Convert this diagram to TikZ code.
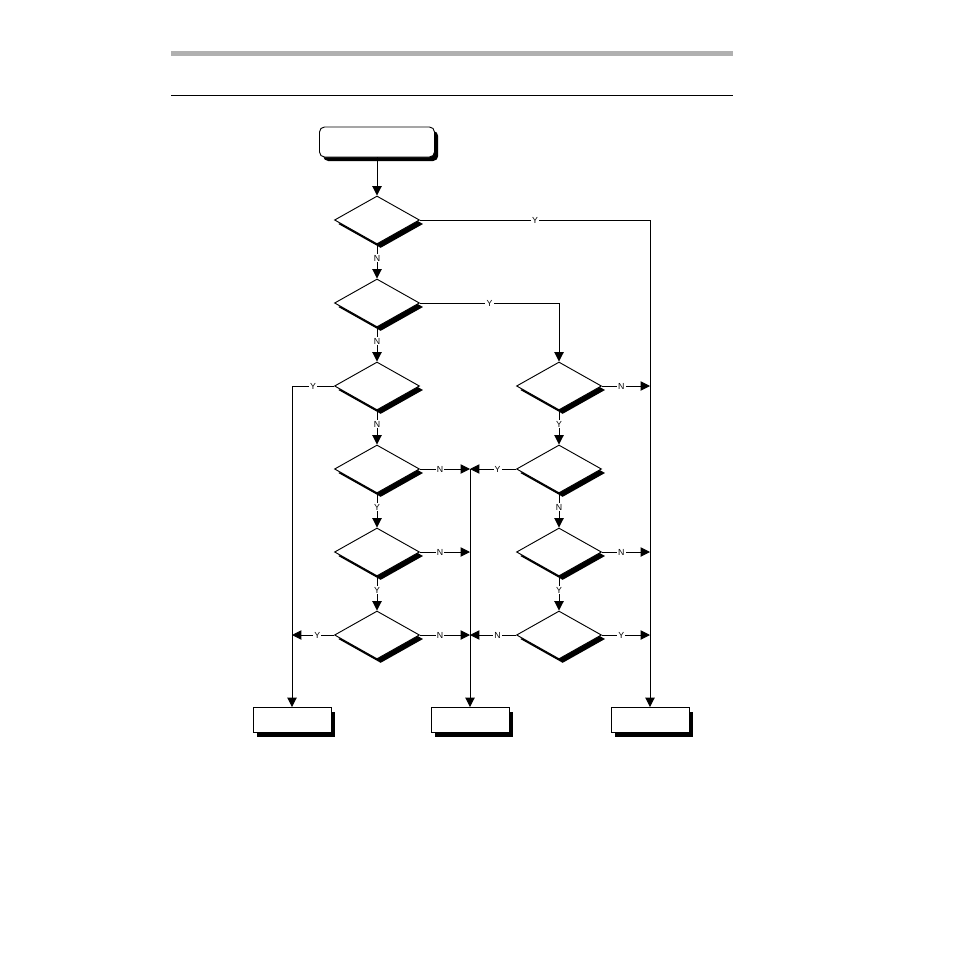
\documentclass[tikz,border=0pt]{standalone}
\usepackage{fontspec}
\setsansfont{Liberation Sans}
\usetikzlibrary{arrows.meta,shapes.geometric,shadows}

\begin{document}
\begin{tikzpicture}[x=0.03cm,y=-0.03cm,line width=0.8pt,
		sh/.style={drop shadow={shadow xshift=0.11cm,shadow yshift=-0.12cm,opacity=1,fill=black}},
		dec/.style={diamond,draw,fill=white,minimum width=2.55cm,minimum height=1.44cm,inner sep=0pt,sh},
		endbox/.style={rectangle,draw,fill=white,minimum width=2.34cm,minimum height=0.75cm,sh},
		arr/.style={-{Triangle[length=0.28cm,width=0.28cm]}},
		lbl/.style={fill=white,inner sep=1pt,font=\sffamily\fontsize{7.5}{8}\selectfont}]
				\useasboundingbox (0,0) rectangle (954,954);
				% header rules
				\fill[black!31] (171,51) rectangle (733,56);
				\draw (171,95) -- (733,95);
				% start
				\node[draw,fill=white,rounded corners=0.15cm,minimum width=3.45cm,minimum height=0.9cm,sh] (start) at (377,142) {};
				% left column
				\node[dec] (d1) at (377,220) {};
				\node[dec] (d2) at (377,303) {};
				\node[dec] (d3) at (377,386) {};
				\node[dec] (d4) at (377,469) {};
				\node[dec] (d5) at (377,552) {};
				\node[dec] (d6) at (377,635) {};
				% right column
				\node[dec] (r1) at (559,386) {};
				\node[dec] (r2) at (559,469) {};
				\node[dec] (r3) at (559,552) {};
				\node[dec] (r4) at (559,635) {};
				% end boxes
				\node[endbox] (boxA) at (292,720) {};
				\node[endbox] (boxB) at (470,720) {};
				\node[endbox] (boxC) at (650,720) {};
				% connectors
				\draw[arr] (start) -- (d1);
				\draw[arr] (d1.east) -| node[lbl,pos=0.25]{Y} (boxC.north);
				\draw[arr] (d1) -- node[lbl,pos=0.4]{N} (d2);
				\draw[arr] (d2.east) -| node[lbl,pos=0.25]{Y} (r1.north);
				\draw[arr] (d2) -- node[lbl,pos=0.4]{N} (d3);
				\draw[arr] (d3.west) -| node[lbl,pos=0.25]{Y} (boxA.north);
				\draw[arr] (d3) -- node[lbl,pos=0.4]{N} (d4);
				\draw[arr] (d4.east) -- node[lbl,pos=0.4]{N} (d4.east -| boxB.north);
				\draw[arr] (d4) -- node[lbl,pos=0.4]{Y} (d5);
				\draw[arr] (d5.east) -- node[lbl,pos=0.4]{N} (d5.east -| boxB.north);
				\draw[arr] (d5) -- node[lbl,pos=0.4]{Y} (d6);
				\draw[arr] (d6.west) -- node[lbl,pos=0.4]{Y} (d6.west -| boxA.north);
				\draw[arr] (d6.east) -- node[lbl,pos=0.4]{N} (d6.east -| boxB.north);
				\draw[arr] (d4.east -| boxB.north) -- (boxB.north);
				\draw[arr] (r1.east) -- node[lbl,pos=0.4]{N} (r1.east -| boxC.north);
				\draw[arr] (r1) -- node[lbl,pos=0.4]{Y} (r2);
				\draw[arr] (r2.west) -- node[lbl,pos=0.4]{Y} (r2.west -| boxB.north);
				\draw[arr] (r2) -- node[lbl,pos=0.4]{N} (r3);
				\draw[arr] (r3.east) -- node[lbl,pos=0.4]{N} (r3.east -| boxC.north);
				\draw[arr] (r3) -- node[lbl,pos=0.4]{Y} (r4);
				\draw[arr] (r4.west) -- node[lbl,pos=0.4]{N} (r4.west -| boxB.north);
				\draw[arr] (r4.east) -- node[lbl,pos=0.4]{Y} (r4.east -| boxC.north);
			\end{tikzpicture}
\end{document}
